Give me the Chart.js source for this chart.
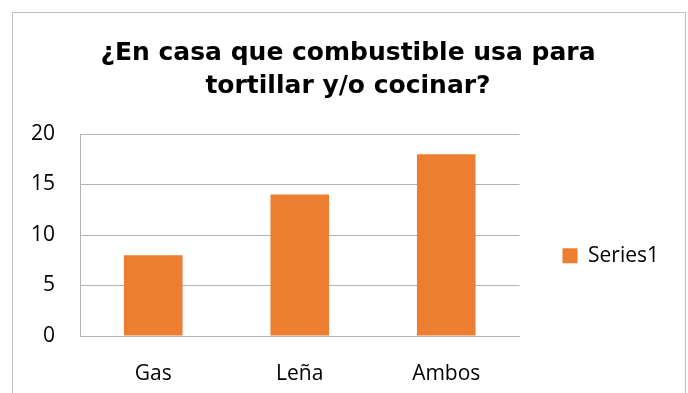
<!doctype html>
<html lang="es">
<head>
    <meta charset="UTF-8">
    <title>Combustible</title>
    <script src="https://cdn.jsdelivr.net/npm/chart.js"></script>
    <style>
        body { margin: 0; background: #fff; }
        .wrap { position: relative; width: 688px; height: 393px; overflow: hidden; }
        .frame { position: absolute; left: 12px; top: 12px; width: 672px; height: 420px; border: 1px solid #bfbfbf; }
        #chart { position: absolute; left: 24px; top: 0; }
    </style>
</head>
<body>
<div class="wrap">
    <div class="frame"></div>
    <canvas id="chart" width="645" height="393"></canvas>
</div>
<script>
  const titleLines = ['¿En casa que combustible usa para', 'tortillar y/o cocinar?'];
  const categories = ['Gas', 'Leña', 'Ambos'];
  const series1 = [8, 14, 18];
  const yTicks = [0, 5, 10, 15, 20];

  const tickFont = {family: '"Open Sans", sans-serif', size: 21};
  const gridColor = '#b3b3b3';

  new Chart(document.getElementById('chart'), {
    type: 'bar',
    data: {
      labels: categories,
      datasets: [
        {
          label: 'Series1',
          data: series1,
          backgroundColor: '#ed7d31',
          categoryPercentage: 1,
          barPercentage: 0.4,
        },
      ]
    },
    options: {
      responsive: false,
      animation: false,
      layout: {padding: {left: 3, right: 0, top: 0, bottom: 0}},
      plugins: {
        title: {
          display: true,
          text: titleLines,
          color: '#000',
          font: {family: '"DejaVu Sans", sans-serif', size: 25, weight: 'bold', lineHeight: 1.32},
          padding: {top: 37, bottom: 31},
        },
        legend: {
          position: 'right',
          align: 'start',
          // empty legend title only pushes the single item down to mid height
          title: {
            display: true,
            text: ' ',
            font: {size: 1},
            padding: {top: 201, bottom: 0},
          },
          labels: {
            boxWidth: 15,
            boxHeight: 15,
            padding: 43,
            color: '#000',
            font: tickFont,
          }
        },
        tooltip: {enabled: false},
      },
      scales: {
        x: {
          grid: {display: false, drawTicks: false},
          border: {display: true, color: gridColor},
          ticks: {color: '#000', font: tickFont, padding: 25},
          afterFit: (axis) => { axis.height = 57; },
        },
        y: {
          min: 0,
          max: 20,
          grid: {color: gridColor, drawTicks: false},
          border: {display: true, color: gridColor},
          ticks: {
            color: '#000',
            font: tickFont,
            padding: 25,
            stepSize: 5,
            callback: (v) => yTicks.includes(v) ? v : null,
          },
          afterFit: (axis) => { axis.width = 53; },
        }
      }
    },
  });
</script>
</body>
</html>
